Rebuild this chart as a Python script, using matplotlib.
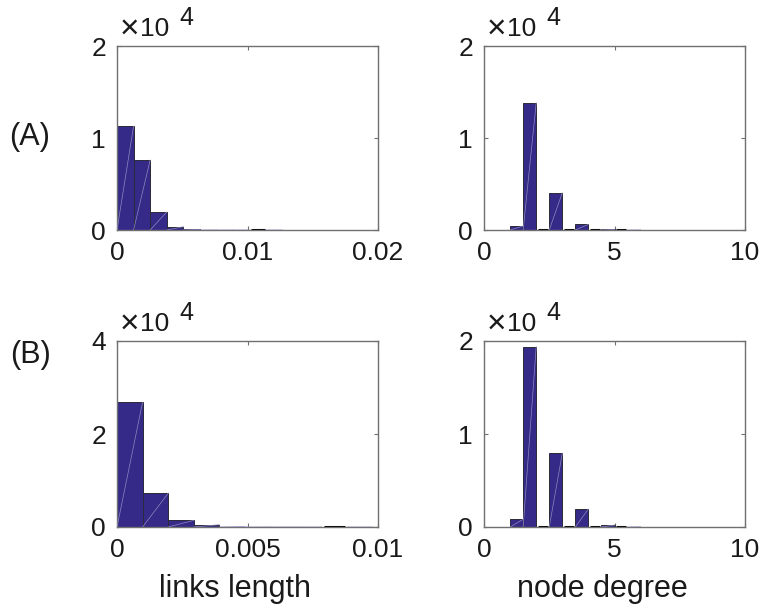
import numpy as np
import matplotlib.pyplot as plt

plt.rcParams['font.family'] = ['Liberation Sans', 'DejaVu Sans']

# histogram counts (10 bins each)
len_a_width = 0.00127
len_a_counts = [11280, 7595, 1953, 360, 70, 15, 5, 2, 0, 1]
deg_a_edges = [1.0, 1.5, 2.0, 2.5, 3.0, 3.5, 4.0, 4.5, 5.0, 5.5, 6.0]
deg_a_counts = [434, 13816, 0, 4050, 0, 615, 0, 60, 0, 15]

len_b_width = 0.00098
len_b_counts = [26860, 7253, 1436, 500, 100, 20, 5, 2, 0, 1]
deg_b_edges = [1.0, 1.5, 2.0, 2.5, 3.0, 3.5, 4.0, 4.5, 5.0, 5.5, 6.0]
deg_b_counts = [826, 19390, 0, 7935, 0, 1939, 0, 215, 0, 30]

row_labels = ['(A)', '(B)']
x_labels = ['links length', 'node degree']

xticks = {
    'len_a': ([0, 0.01, 0.02], ['0', '0.01', '0.02']),
    'len_b': ([0, 0.005, 0.01], ['0', '0.005', '0.01']),
    'deg': ([0, 5, 10], ['0', '5', '10']),
}

BAR = '#352a87'
AXC = '#707070'
TXT = '#1a1a1a'
FS = 19


def draw_hist(ax, edges, counts, xlim, ymax, yticks, xt):
    edges = np.asarray(edges, dtype=float)
    counts = np.asarray(counts, dtype=float) * 1e-4
    lefts = edges[:-1]
    widths = np.diff(edges)
    nz = counts > 0
    ax.bar(lefts[nz], counts[nz], width=widths[nz], align='edge',
           color=BAR, edgecolor='#2a2a3a', linewidth=0.7, zorder=2)
    # thin light diagonals across the filled bars
    for l, w, h in zip(lefts[nz], widths[nz], counts[nz]):
        ax.plot([l, l + w], [0, h], color='#8e8ac0', lw=0.5, zorder=3)
    # empty bins show up as short dark strokes on the baseline
    for l, w in zip(lefts[~nz], widths[~nz]):
        ax.hlines(0, l + 0.1 * w, l + 0.9 * w, color='#111111', lw=2.2, zorder=4)
    ax.set_xlim(*xlim)
    ax.set_ylim(0, ymax)
    ax.set_yticks(yticks)
    ax.set_yticklabels([f'{t:g}' for t in yticks])
    ax.set_xticks(xt[0])
    ax.set_xticklabels(xt[1])
    ax.tick_params(direction='in', length=3, width=0.8, color=AXC,
                   top=True, right=True, labelsize=FS, labelcolor=TXT,
                   pad=8)
    for s in ax.spines.values():
        s.set_color(AXC)
        s.set_linewidth(1.0)
    # exponent label above the y axis
    h_px = ax.get_position().height * 611
    ax.text(0.012, 1 + 8 / h_px, '\u00d7', transform=ax.transAxes,
            fontsize=24, ha='left', va='baseline', color=TXT)
    ax.text(0.088, 1 + 10 / h_px, '10', transform=ax.transAxes,
            fontsize=FS, ha='left', va='baseline', color=TXT)
    ax.text(0.238, 1 + 21 / h_px, '4', transform=ax.transAxes,
            fontsize=FS - 1, ha='left', va='baseline', color=TXT)
    return h_px


fig = plt.figure(figsize=(7.6, 6.11), dpi=100)
ax1 = fig.add_axes([117 / 760, 381 / 611, 261 / 760, 184 / 611])
ax2 = fig.add_axes([484 / 760, 381 / 611, 261 / 760, 184 / 611])
ax3 = fig.add_axes([117 / 760, 84 / 611, 261 / 760, 186 / 611])
ax4 = fig.add_axes([484 / 760, 84 / 611, 261 / 760, 186 / 611])

len_a_edges = np.arange(len(len_a_counts) + 1) * len_a_width
len_b_edges = np.arange(len(len_b_counts) + 1) * len_b_width

draw_hist(ax1, len_a_edges, len_a_counts, (0, 0.02), 2, [0, 1, 2], xticks['len_a'])
draw_hist(ax2, deg_a_edges, deg_a_counts, (0, 10), 2, [0, 1, 2], xticks['deg'])
hb = draw_hist(ax3, len_b_edges, len_b_counts, (0, 0.01), 4, [0, 2, 4], xticks['len_b'])
draw_hist(ax4, deg_b_edges, deg_b_counts, (0, 10), 2, [0, 1, 2], xticks['deg'])

ax3.set_xlabel(x_labels[0], fontsize=22, color=TXT)
ax4.set_xlabel(x_labels[1], fontsize=22, color=TXT)
ax3.xaxis.set_label_coords(118 / 261, -47 / hb)
ax4.xaxis.set_label_coords(118 / 261, -47 / hb)

fig.text(30 / 760, 1 - 137 / 611, row_labels[0], fontsize=22,
         ha='center', va='center', color=TXT)
fig.text(30 / 760, 1 - 355 / 611, row_labels[1], fontsize=22,
         ha='center', va='center', color=TXT)

fig.savefig('out.png', dpi=100)
